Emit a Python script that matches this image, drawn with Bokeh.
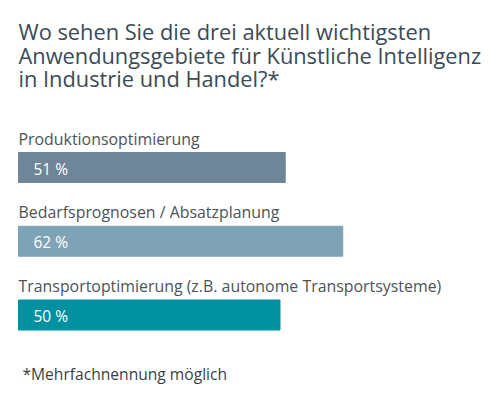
from bokeh.plotting import figure
from bokeh.models import ColumnDataSource, Range1d, Label
from bokeh.core.properties import value
from bokeh.embed import file_html
from bokeh.resources import INLINE

title_lines = [
    "Wo sehen Sie die drei aktuell wichtigsten",
    "Anwendungsgebiete für Künstliche Intelligenz",
    "in Industrie und Handel?*",
]
categories = [
    "Produktionsoptimierung",
    "Bedarfsprognosen / Absatzplanung",
    "Transportoptimierung (z.B. autonome Transportsysteme)",
]
values_pct = [51, 62, 50]
bar_colors = ["#6f8699", "#7fa3b6", "#0091a0"]
footnote = "*Mehrfachnennung möglich"

FONT = "Open Sans"
W, H = 500, 396
X0 = 18          # pixel of 0 %
Y0 = 167         # pixel (from top) of first bar centre
PX_PER_PCT = 5.23
ROW_PX = 73.75
SHIFT = 7        # baseline correction

src = ColumnDataSource(dict(
    y=list(range(len(categories))),
    v=values_pct,
    cat=categories,
    lab=[f"{v} %" for v in values_pct],
    color=bar_colors,
))

p = figure(width=W, height=H, output_backend="svg", toolbar_location=None,
           min_border=0, min_border_left=0, min_border_right=0,
           min_border_top=0, min_border_bottom=0)
p.x_range = Range1d(-X0 / PX_PER_PCT, (W - X0) / PX_PER_PCT)
p.y_range = Range1d((H - Y0) / ROW_PX, -Y0 / ROW_PX)
p.axis.visible = False
p.grid.visible = False
p.outline_line_color = None
p.background_fill_color = "white"
p.border_fill_color = "white"

p.hbar(y="y", left=0, right="v", height=30 / ROW_PX, color="color", source=src)

p.text(x=0, y="y", text="cat", source=src, y_offset=-22 - SHIFT,
       text_baseline="alphabetic", text_align="left",
       text_font=value(FONT), text_font_size="15.9px", text_color="#4d5359")
p.text(x=0, y="y", text="lab", source=src, x_offset=15, y_offset=8 - SHIFT,
       text_baseline="alphabetic", text_align="left",
       text_font=value(FONT), text_font_size="15.5px", text_color="white")

for i, line in enumerate(title_lines):
    p.add_layout(Label(x=18, y=H - 38 - 23.5 * i + SHIFT, x_units="screen", y_units="screen",
                       text=line, text_font=FONT, text_font_size="21.8px",
                       text_color="#3b4b56", text_baseline="alphabetic"))

p.add_layout(Label(x=22, y=H - 380 + SHIFT, x_units="screen", y_units="screen",
                   text=footnote, text_font=FONT, text_font_size="15.6px",
                   text_color="#3a3f44", text_baseline="alphabetic"))

open("out.html", "w").write(file_html(p, INLINE))
